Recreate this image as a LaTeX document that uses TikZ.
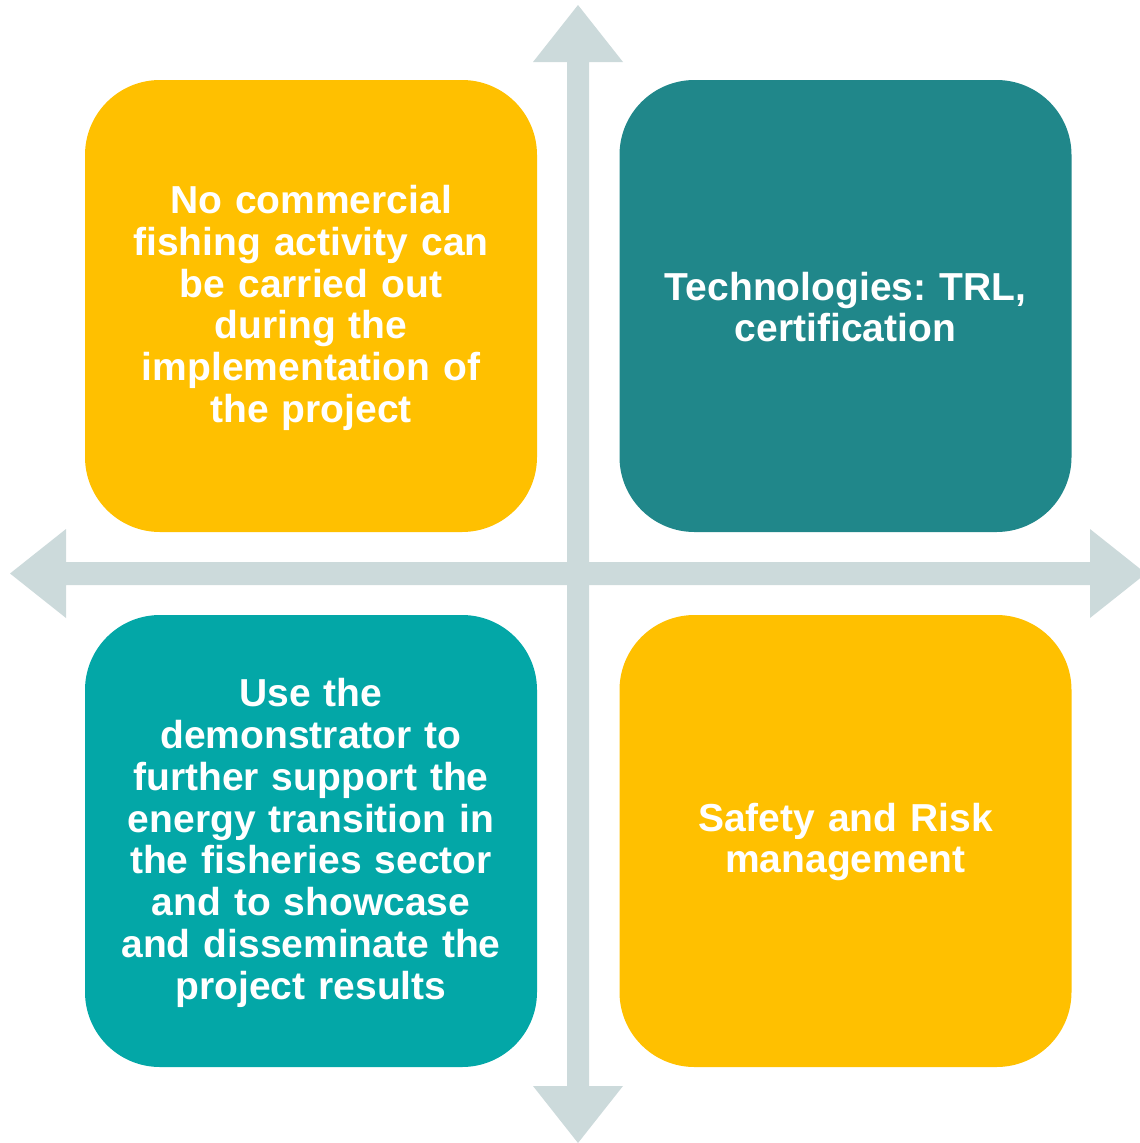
\documentclass[tikz,border=0pt]{standalone}
\usepackage{fontspec}
\setmainfont{Liberation Sans}
\usepackage{tikz}
\frenchspacing
\definecolor{qyellow}{HTML}{FFC000}
\definecolor{qteal}{HTML}{20878A}
\definecolor{qturq}{HTML}{03A7A7}
\definecolor{qaxis}{HTML}{CCDADB}

\begin{document}
\begin{tikzpicture}[line cap=round,line join=round,x=1pt,y=-1pt,
    quad/.style={rectangle,rounded corners=75pt,minimum width=452pt,minimum height=452pt,
      inner sep=0pt,text=white,text width=440pt,align=center,
      font=\bfseries\fontsize{39}{41.8}\selectfont}]
      \clip (0,0) rectangle (1140,1143);
      \useasboundingbox (0,0) rectangle (1140,1143);

      % axes
      \fill[qaxis] (578,5) -- (623,62) -- (589,62) -- (589,1086) -- (623,1086) -- (578,1143)
        -- (533,1086) -- (567,1086) -- (567,62) -- (533,62) -- cycle;
      \fill[qaxis] (10,573.5) -- (66,529) -- (66,562) -- (1090,562) -- (1090,529) -- (1146,573.5)
        -- (1090,618) -- (1090,585) -- (66,585) -- (66,618) -- cycle;

      % quadrants
      \node[quad,fill=qyellow] (risk) at (311,306) {};
      \node[quad,fill=qteal] (tech) at (845.5,306) {};
      \node[quad,fill=qturq] (use) at (311,841) {};
      \node[quad,fill=qyellow] (safety) at (845.5,841) {};

      % texts
      \node[quad,minimum size=0pt] (risktxt) at ([yshift=-2pt]risk.center) {No commercial\\fishing activity can\\be carried out\\during the\\implementation of\\the project};
      \node[quad,minimum size=0pt] (techtxt) at ([yshift=-1pt]tech.center) {Technologies: TRL,\\certification};
      \node[quad,minimum size=0pt] (usetxt) at ([yshift=-2pt]use.center) {Use the\\demonstrator to\\further support the\\energy transition in\\the fisheries sector\\and to showcase\\and disseminate the\\project results};
      \node[quad,minimum size=0pt] (safetytxt) at ([yshift=-1pt]safety.center) {Safety and Risk\\management};
    \end{tikzpicture}
\end{document}
